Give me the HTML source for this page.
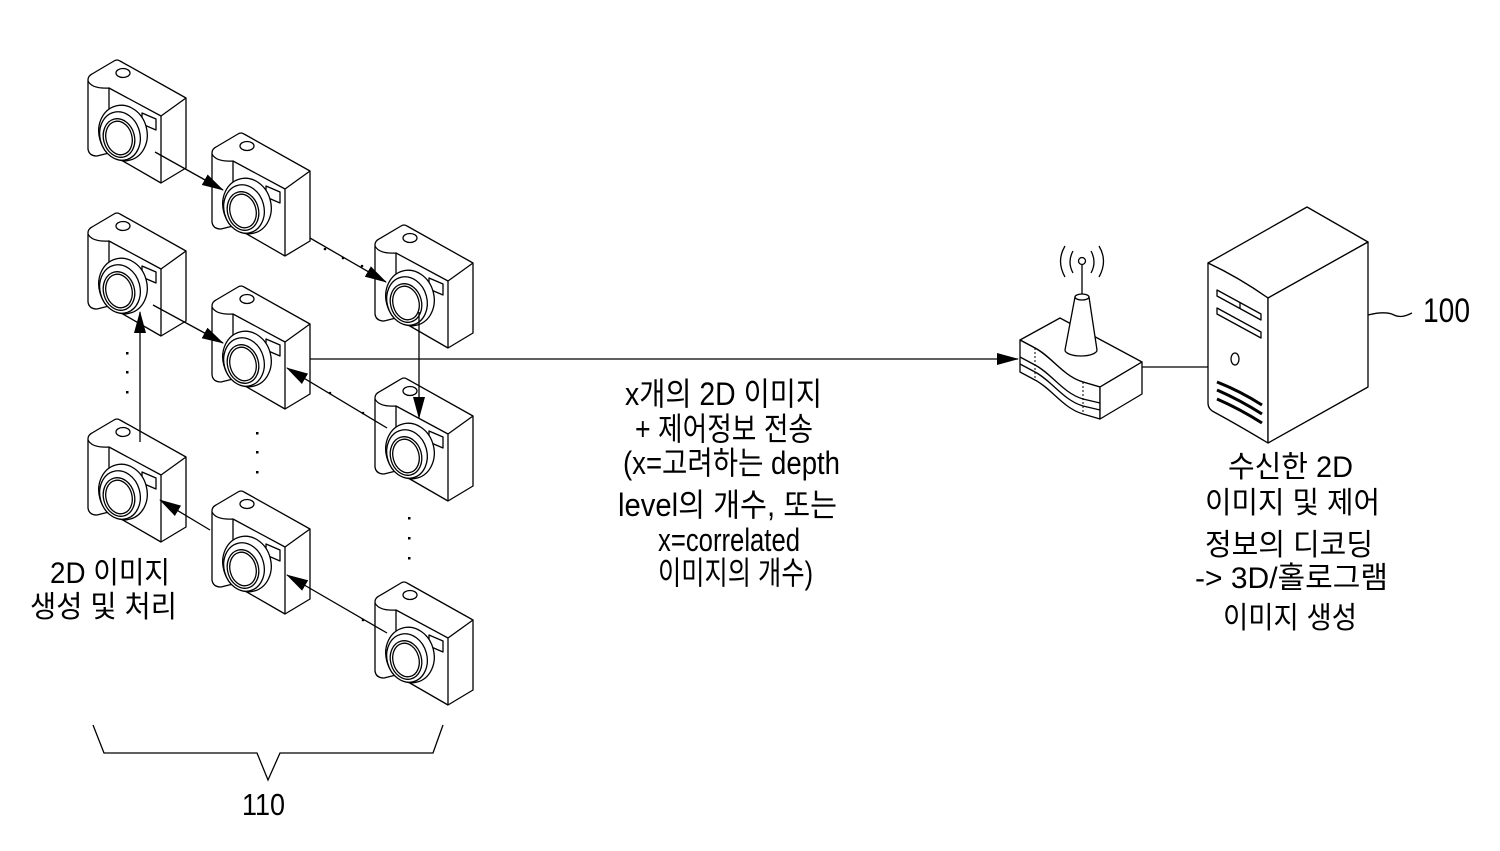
<!DOCTYPE html>
<html><head><meta charset="utf-8"><style>
html,body{margin:0;padding:0;background:#fff;}
svg{display:block;}
text{font-family:"Liberation Sans","Noto Sans CJK KR",sans-serif;fill:#000;}
</style></head><body>
<svg width="1500" height="851" viewBox="0 0 1500 851" xmlns="http://www.w3.org/2000/svg">
<rect width="1500" height="851" fill="#fff"/>
<defs>
<marker id="ah" markerWidth="22" markerHeight="12" refX="21" refY="6" orient="auto" markerUnits="userSpaceOnUse"><path d="M0,0 L22,6 L0,12 Z" fill="#000"/></marker>
<g id="cam" fill="#fff" stroke="#000" stroke-width="1.3" stroke-linejoin="round">
<path d="M0,1 L0,70 Q1,77 9,77 L21,74 L73,104 L98,89 L98,19 L32,-18 Q29,-20 26,-18 L4,-5 Q0,-3 0,1 Z"/>
<path d="M0,2 Q4,10 21,9 L73,37 L98,19 M21,9 L21,74 M73,37 L73,104" fill="none"/>
<ellipse cx="35" cy="-6" rx="7" ry="4.5"/>
<path d="M54,34 L68,40 L68,51 L54,45 Z"/>
<ellipse cx="35" cy="54" rx="24" ry="28" transform="rotate(-15 35 54)"/>
<ellipse cx="32" cy="57" rx="20" ry="24.5" transform="rotate(-15 32 57)"/>
<ellipse cx="31" cy="59" rx="15.5" ry="19.5" transform="rotate(-15 31 59)"/>
<ellipse cx="31" cy="59" rx="13" ry="17" transform="rotate(-15 31 59)"/>
</g>
</defs>

<!-- cameras -->
<use href="#cam" x="88" y="79"/>
<use href="#cam" x="212" y="152"/>
<use href="#cam" x="375" y="244"/>
<use href="#cam" x="88" y="232"/>
<use href="#cam" x="212" y="305"/>
<use href="#cam" x="375" y="397"/>
<use href="#cam" x="88" y="438"/>
<use href="#cam" x="212" y="510"/>
<use href="#cam" x="375" y="601"/>

<!-- arrows between cameras -->
<g stroke="#000" stroke-width="1.3" fill="none">
<line x1="155" y1="152" x2="223" y2="190" marker-end="url(#ah)"/>
<line x1="310" y1="238" x2="386" y2="282" marker-end="url(#ah)"/>
<line x1="419" y1="312" x2="419" y2="418" marker-end="url(#ah)"/>
<line x1="387" y1="428" x2="287" y2="368" marker-end="url(#ah)"/>
<line x1="153" y1="305" x2="223" y2="343" marker-end="url(#ah)"/>
<line x1="140" y1="442" x2="140" y2="312" marker-end="url(#ah)"/>
<line x1="210" y1="530" x2="160" y2="500" marker-end="url(#ah)"/>
<line x1="387" y1="633" x2="287" y2="575" marker-end="url(#ah)"/>
<line x1="310" y1="359" x2="1018" y2="359" marker-end="url(#ah)"/>
<line x1="1142" y1="367" x2="1208" y2="367"/>
</g>
<!-- ticks -->
<g fill="#000">
<circle cx="325" cy="249" r="1.3"/><circle cx="343" cy="258" r="1.3"/><circle cx="362" cy="266" r="1.3"/>
<circle cx="330" cy="393" r="1.3"/><circle cx="363" cy="413" r="1.3"/>
<circle cx="363" cy="620" r="1.3"/>
<!-- dots -->
<rect x="126" y="352" width="2.5" height="2.5"/><rect x="126" y="371" width="2.5" height="2.5"/><rect x="126" y="391" width="2.5" height="2.5"/>
<rect x="256" y="432" width="2.5" height="2.5"/><rect x="256" y="451" width="2.5" height="2.5"/><rect x="256" y="471" width="2.5" height="2.5"/>
<rect x="408" y="517" width="2.5" height="2.5"/><rect x="408" y="537" width="2.5" height="2.5"/><rect x="408" y="557" width="2.5" height="2.5"/>
</g>

<!-- brace -->
<path d="M93,725 L104,753 L257,753 L268,780 L280,753 L433,753 L443,725" fill="none" stroke="#000" stroke-width="1.3"/>

<!-- router -->
<g stroke="#000" stroke-width="1.3" fill="#fff" stroke-linejoin="round">
<path d="M1020,340 L1060,318 L1142,362 L1100,387 L1083,382 C1063,376 1052,357 1035,348 Z"/>
<path d="M1020,340 L1035,348 C1052,357 1063,376 1083,382 L1100,387 L1100,419 L1083,414 C1063,408 1052,389 1035,380 L1020,372 Z"/>
<path d="M1100,387 L1142,362 L1142,394 L1100,419 Z"/>
<path d="M1020,357 L1035,365 C1052,374 1063,393 1083,399 L1100,403" fill="none"/>
<path d="M1020,364 L1035,372 C1052,381 1063,400 1083,406 L1100,410" fill="none"/>
<path d="M1035,348 L1035,380 M1083,382 L1083,414" fill="none" stroke-dasharray="2,2" stroke-width="1"/>
<path d="M1065,350 L1075,297 L1089,297 L1097,350 A16,6 0 0 1 1065,350 Z"/>
<ellipse cx="1082" cy="297" rx="7" ry="3"/>
<line x1="1082" y1="294" x2="1082" y2="265"/>
<circle cx="1082" cy="261" r="3.5"/>
<path d="M1073,251 Q1067,262 1073,273 M1091,251 Q1097,262 1091,273 M1065,246 Q1056,261 1065,277 M1099,246 Q1108,261 1099,277" fill="none"/>
</g>

<!-- server -->
<g stroke="#000" stroke-width="1.3" fill="#fff" stroke-linejoin="round">
<path d="M1208,263 L1307,207 L1368,242 L1268,298 Q1238,277 1208,263 Z"/>
<path d="M1208,263 Q1238,277 1268,298 L1268,443 Q1238,425 1214,412 Q1208,409 1208,403 Z"/>
<path d="M1268,298 L1368,242 L1368,387 L1268,443 Z"/>
<path d="M1217,290 L1261,314 L1261,320 L1217,296 Z"/>
<path d="M1217,308 L1261,332 L1261,338 L1217,314 Z"/>
<line x1="1240" y1="302" x2="1240" y2="308"/>
<ellipse cx="1235" cy="359" rx="4" ry="6"/>
<path d="M1217,382 Q1240,391 1262,405 M1217,390 Q1240,400 1262,414 M1217,399 Q1240,409 1262,423" fill="none" stroke-width="3"/>
<path d="M1368,315 C1380,312 1388,312 1394,315 C1400,318 1406,316 1412,313" fill="none"/>
</g>

<!-- labels -->
<text x="1423" y="322" font-size="34" textLength="47" lengthAdjust="spacingAndGlyphs">100</text>
<text x="242" y="815" font-size="31" textLength="43" lengthAdjust="spacingAndGlyphs">110</text>

<text x="50" y="583" font-size="30" textLength="120" lengthAdjust="spacingAndGlyphs">2D 이미지</text>
<text x="30" y="617" font-size="30" textLength="147" lengthAdjust="spacingAndGlyphs">생성 및 처리</text>

<text x="625" y="405" font-size="32" textLength="197" lengthAdjust="spacingAndGlyphs">x개의 2D 이미지</text>
<text x="635" y="440" font-size="32" textLength="178" lengthAdjust="spacingAndGlyphs">+ 제어정보 전송</text>
<text x="623" y="474" font-size="32" textLength="217" lengthAdjust="spacingAndGlyphs">(x=고려하는 depth</text>
<text x="618" y="516" font-size="32" textLength="219" lengthAdjust="spacingAndGlyphs">level의 개수, 또는</text>
<text x="658" y="551" font-size="32" textLength="142" lengthAdjust="spacingAndGlyphs">x=correlated</text>
<text x="658" y="584" font-size="32" textLength="155" lengthAdjust="spacingAndGlyphs">이미지의 개수)</text>

<text x="1228" y="477" font-size="30" textLength="125" lengthAdjust="spacingAndGlyphs">수신한 2D</text>
<text x="1205" y="513" font-size="30" textLength="175" lengthAdjust="spacingAndGlyphs">이미지 및 제어</text>
<text x="1205" y="555" font-size="30" textLength="168" lengthAdjust="spacingAndGlyphs">정보의 디코딩</text>
<text x="1195" y="588" font-size="30" textLength="193" lengthAdjust="spacingAndGlyphs">-&gt; 3D/홀로그램</text>
<text x="1223" y="628" font-size="30" textLength="134" lengthAdjust="spacingAndGlyphs">이미지 생성</text>
</svg>
</body></html>
